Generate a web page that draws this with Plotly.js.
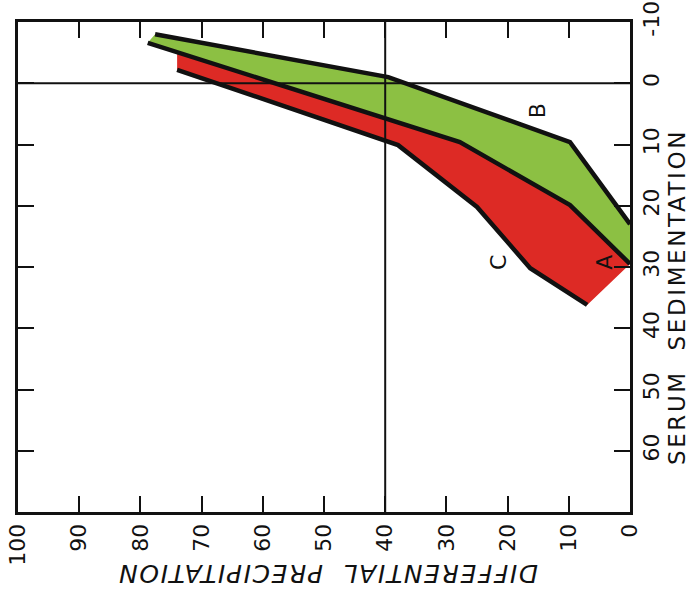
<!DOCTYPE html>
<html><head><meta charset="utf-8">
<script src="https://cdn.plot.ly/plotly-3.0.1.min.js"></script>
<style>html,body{margin:0;padding:0;background:#fff}</style>
</head><body><div id="chart" style="width:693px;height:590px"></div>
<script>
// Differential precipitation (x) vs serum sedimentation (y); figure drawn sideways
const lineB_x = [77.6, 39.5, 9.8, 0];
const lineB_y = [-8.0, -1.0, 9.6, 23.0];
const lineA_x = [78.8, 27.8, 9.8, 0];
const lineA_y = [-6.6, 9.6, 19.9, 29.5];
const lineC_x = [74.0, 37.9, 25.0, 16.3, 7.0];
const lineC_y = [-2.2, 10.1, 20.2, 30.2, 36.2];
const redStart_x = 74.0;   // red band begins on line A here
const redStart_y = -4.9;
const precipTicks = [0, 10, 20, 30, 40, 50, 60, 70, 80, 90, 100];
const sedTicks = [-10, 0, 10, 20, 30, 40, 50, 60];
const refPrecip = 40;
const refSed = 0;
const curveNames = ['A', 'B', 'C'];
const curveLabelX = [4.3, 15.2, 21.6];
const curveLabelY = [29.2, 4.4, 29.2];

const GREEN = '#8cc043';
const RED = '#dd2a25';
const FONT = 'DejaVu Sans, Liberation Sans, sans-serif';

const greenX = lineB_x.concat(lineA_x.slice().reverse());
const greenY = lineB_y.concat(lineA_y.slice().reverse());
const aTailX = lineA_x.filter(v => v < redStart_x);
const aTailY = lineA_y.filter((v, i) => lineA_x[i] < redStart_x);
const redX = [redStart_x].concat(aTailX, lineC_x.slice().reverse());
const redY = [redStart_y].concat(aTailY, lineC_y.slice().reverse());

const traces = [
  {x: greenX, y: greenY, type: 'scatter', mode: 'lines', fill: 'toself', fillcolor: GREEN, line: {width: 0, color: GREEN}, hoverinfo: 'skip'},
  {x: redX, y: redY, type: 'scatter', mode: 'lines', fill: 'toself', fillcolor: RED, line: {width: 0, color: RED}, hoverinfo: 'skip'},
  {x: lineB_x, y: lineB_y, type: 'scatter', mode: 'lines', line: {color: '#111', width: 4.5}},
  {x: lineA_x, y: lineA_y, type: 'scatter', mode: 'lines', line: {color: '#111', width: 4.5}},
  {x: lineC_x, y: lineC_y, type: 'scatter', mode: 'lines', line: {color: '#111', width: 4.5}}
];

const annotations = curveNames.map((n, i) => ({
  x: curveLabelX[i], y: curveLabelY[i], xref: 'x', yref: 'y', text: n, showarrow: false,
  textangle: -90, font: {family: FONT, size: 22, color: '#111'}
}));
annotations.push({
  xref: 'paper', yref: 'paper', x: (328 - 18) / 612, y: (512 - 574) / 490,
  xanchor: 'center', yanchor: 'middle',
  text: '<span style="letter-spacing:1.6px"><i>DIFFERENTIAL  PRECIPITATION</i></span>',
  showarrow: false, textangle: 180, font: {family: FONT, size: 25, color: '#111'}
});
annotations.push({
  xref: 'paper', yref: 'paper', x: (677 - 18) / 612, y: (512 - 297) / 490,
  xanchor: 'center', yanchor: 'middle',
  text: '<span style="letter-spacing:2.6px">SERUM  SEDIMENTATION</span>',
  showarrow: false, textangle: -90, font: {family: FONT, size: 23, color: '#111'}
});

const layout = {
  width: 693, height: 590,
  margin: {l: 18, r: 63, t: 22, b: 78},
  paper_bgcolor: '#fff', plot_bgcolor: '#fff',
  showlegend: false,
  xaxis: {
    range: [100, 0], tickvals: precipTicks, ticktext: precipTicks.map(String),
    tickangle: -90, ticks: 'inside', ticklen: 16, tickwidth: 2, tickcolor: '#111',
    showline: true, linewidth: 3, linecolor: '#111', mirror: 'ticks',
    showgrid: false, zeroline: false, ticklabelstandoff: 0, ticklabeloverflow: 'allow',
    tickfont: {family: FONT, size: 22, color: '#111'}
  },
  yaxis: {
    range: [70, -10], side: 'right', tickvals: sedTicks, ticktext: sedTicks.map(String),
    tickangle: -90, ticks: 'inside', ticklen: 16, tickwidth: 2, tickcolor: '#111',
    showline: true, linewidth: 3, linecolor: '#111', mirror: 'ticks',
    showgrid: false, zeroline: false, ticklabelstandoff: 0, ticklabeloverflow: 'allow',
    tickfont: {family: FONT, size: 22, color: '#111'}
  },
  shapes: [
    {type: 'line', xref: 'x', yref: 'paper', x0: refPrecip, x1: refPrecip, y0: 0, y1: 1, line: {color: '#111', width: 2}, layer: 'above'},
    {type: 'line', xref: 'paper', yref: 'y', x0: 0, x1: 1, y0: refSed, y1: refSed, line: {color: '#111', width: 2}, layer: 'above'}
  ],
  annotations: annotations
};

Plotly.newPlot('chart', traces, layout, {displayModeBar: false, staticPlot: true});
</script></body></html>
